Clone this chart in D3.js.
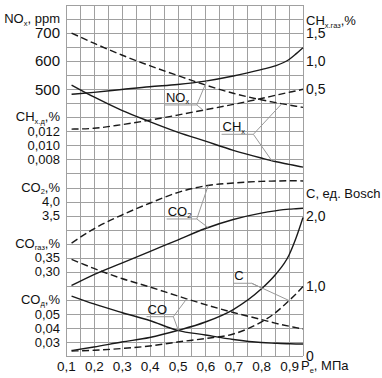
<!DOCTYPE html>
<html>
<head>
<meta charset="utf-8">
<script src="https://cdn.jsdelivr.net/npm/d3@7"></script>
<style>
body{margin:0;background:#fff}
text{font-family:"Liberation Sans",Arial,sans-serif;fill:#111}
</style>
</head>
<body>
<div id="chart"></div>
<script>
// pressure Pe, MPa
const pressure   = [0.12, 0.2, 0.3, 0.4, 0.5, 0.6, 0.7, 0.8, 0.85, 0.9, 0.925, 0.95]
// NOx, ppm
const noxSolid   = [482, 489, 499, 509, 517, 529, 547, 570, 583, 606, 626, 648]
const noxDashed  = [358, 361, 374, 390, 408, 427, 446, 467, 478, 489, 494, 500]
// CHx
const chxGas     = [1.50, 1.32, 1.11, 0.92, 0.745, 0.576, 0.428, 0.312, 0.264, 0.219, 0.198, 0.178]
const chxDiesel  = [0.0186, 0.0169, 0.0150, 0.0134, 0.0119, 0.0106, 0.0093, 0.0082, 0.0077, 0.0073, 0.0071, 0.0069]
// CO2, %
const co2Dashed  = [2.52, 3.03, 3.52, 3.94, 4.32, 4.56, 4.66, 4.72, 4.73, 4.74, 4.74, 4.73]
const co2Solid   = [1.01, 1.40, 1.81, 2.22, 2.63, 3.04, 3.36, 3.59, 3.67, 3.73, 3.745, 3.76]
// CO, %
const coGas      = [0.344, 0.312, 0.276, 0.246, 0.214, 0.183, 0.155, 0.130, 0.117, 0.106, 0.101, 0.096]
const coDiesel   = [0.0627, 0.0571, 0.0510, 0.0453, 0.0383, 0.0350, 0.0318, 0.0296, 0.0291, 0.0287, 0.0286, 0.0286]
// C, Bosch units
const boschSolid  = [0.078, 0.128, 0.199, 0.264, 0.363, 0.484, 0.662, 0.954, 1.154, 1.439, 1.68, 1.973]
const boschDashed = [0.071, 0.081, 0.107, 0.142, 0.199, 0.249, 0.313, 0.484, 0.613, 0.79, 0.883, 0.99]

// tick labels
const xTicks       = [0.1, 0.2, 0.3, 0.4, 0.5, 0.6, 0.7, 0.8, 0.9]
const noxTicks     = [700, 600, 500]
const chxDTicks    = [0.012, 0.010, 0.008]
const co2Ticks     = [4.0, 3.5]
const coGasTicks   = [0.35, 0.30]
const coDTicks     = [0.05, 0.04, 0.03]
const chxGasTicks  = [1.5, 1.0, 0.5]
const boschTicks   = [2.0, 1.0, 0]

const width = 382, height = 378
const plotL = 66, plotR = 303, plotT = 5, plotB = 356
const rows = 25

const svg = d3.select("#chart").append("svg")
	.attr("width", width)
	.attr("height", height)

const x = d3.scaleLinear().domain([0.1, 0.95]).range([plotL, plotR])
const yRow = d3.scaleLinear().domain([0, rows]).range([plotT, plotB])

// one scale per quantity, all on the same grid
const yNox    = d3.scaleLinear().domain([700, 500]).range([yRow(2), yRow(6)])
const yChxD   = d3.scaleLinear().domain([0.012, 0.008]).range([yRow(9), yRow(11)])
const yCo2    = d3.scaleLinear().domain([4.0, 3.5]).range([yRow(14), yRow(15)])
const yCoGas  = d3.scaleLinear().domain([0.35, 0.30]).range([yRow(18), yRow(19)])
const yCoD    = d3.scaleLinear().domain([0.05, 0.03]).range([yRow(22), yRow(24)])
const yChxGas = d3.scaleLinear().domain([1.5, 0.5]).range([yRow(2), yRow(6)])
const yBosch  = d3.scaleLinear().domain([2.0, 0]).range([yRow(15), yRow(25)])

const comma = (n) => d => d.toFixed(n).replace(".", ",")

// grid
const grid = svg.append("g").attr("stroke", "#a0a0a0").attr("stroke-width", 1)
grid.selectAll(".vl").data(d3.range(18).map(i => 0.1 + i * 0.05))
	.enter().append("line")
	.attr("x1", d => Math.round(x(d)) + 0.5).attr("x2", d => Math.round(x(d)) + 0.5)
	.attr("y1", plotT).attr("y2", plotB)
grid.selectAll(".hl").data(d3.range(rows + 1))
	.enter().append("line")
	.attr("x1", plotL).attr("x2", plotR)
	.attr("y1", d => Math.round(yRow(d)) + 0.5).attr("y2", d => Math.round(yRow(d)) + 0.5)

// axes (labels only)
function styleAxis(g, size){
	g.select(".domain").remove()
	g.selectAll("text").attr("font-size", size).attr("fill", "#111")
		.attr("font-family", '"Liberation Sans",Arial,sans-serif')
}
function leftAxis(scale, ticks, fmt, size){
	svg.append("g").attr("transform", "translate(" + plotL + ",0)")
		.call(d3.axisLeft(scale).tickValues(ticks).tickSize(0).tickPadding(6).tickFormat(fmt))
		.call(styleAxis, size)
}
function rightAxis(scale, ticks, fmt, size){
	svg.append("g").attr("transform", "translate(" + plotR + ",0)")
		.call(d3.axisRight(scale).tickValues(ticks).tickSize(0).tickPadding(3).tickFormat(fmt))
		.call(styleAxis, size)
}
leftAxis(yNox, noxTicks, d3.format("d"), 15)
leftAxis(yChxD, chxDTicks, comma(3), 13)
leftAxis(yCo2, co2Ticks, comma(1), 13)
leftAxis(yCoGas, coGasTicks, comma(2), 13)
leftAxis(yCoD, coDTicks, comma(2), 13)
rightAxis(yChxGas, chxGasTicks, comma(1), 14)
rightAxis(yBosch, boschTicks, d => d === 0 ? "0" : comma(1)(d), 14)

svg.append("g").attr("transform", "translate(0," + plotB + ")")
	.call(d3.axisBottom(x).tickValues(xTicks).tickSize(0).tickPadding(5).tickFormat(comma(1)))
	.call(styleAxis, 13.5)

// titles with subscripts
function title(px, py, parts, anchor){
	const t = svg.append("text").attr("x", px).attr("y", py)
		.attr("font-size", 13).attr("text-anchor", anchor || "start")
	let down = false
	parts.forEach(p => {
		const sub = p[1] === true
		const ts = t.append("tspan").text(p[0])
		if(sub){ ts.attr("font-size", 7.5).attr("dy", 2.5); down = true }
		else if(down){ ts.attr("dy", -2.5); down = false }
	})
	return t
}
title(60, yRow(1) + 4, [["NO"], ["x", true], [", ppm"]], "end")
title(60, yRow(8) + 4, [["CH"], ["х.д", true], [",%"]], "end")
title(60, yRow(13) + 4, [["CO"], ["2", true], [",%"]], "end")
title(60, yRow(17) + 4, [["CO"], ["газ", true], [",%"]], "end")
title(60, yRow(21) + 4, [["CO"], ["д", true], [",%"]], "end")
title(306, yRow(1) + 6, [["CH"], ["х.газ", true], [",%"]])
title(306, yRow(13.4) + 5, [["C, ед. Bosch"]])
title(301, 370, [["P"], ["e", true], [", МПа"]])

// curves
const series = [
	{values: noxSolid, y: yNox, dash: null},
	{values: noxDashed, y: yNox, dash: "7,3.5"},
	{values: chxGas, y: yChxGas, dash: "7,3.5"},
	{values: chxDiesel, y: yChxD, dash: null},
	{values: co2Dashed, y: yCo2, dash: "7,3.5"},
	{values: co2Solid, y: yCo2, dash: null},
	{values: coGas, y: yCoGas, dash: "7,3.5"},
	{values: coDiesel, y: yCoD, dash: null},
	{values: boschSolid, y: yBosch, dash: null},
	{values: boschDashed, y: yBosch, dash: "7,3.5"}
]
series.forEach(s => {
	const line = d3.line().x(d => x(d[0])).y(d => s.y(d[1])).curve(d3.curveMonotoneX)
	svg.append("path")
		.datum(pressure.map((p, i) => [p, s.values[i]]))
		.attr("d", line)
		.attr("fill", "none")
		.attr("stroke", "#1a1a1a")
		.attr("stroke-width", 1.4)
		.attr("stroke-dasharray", s.dash)
})

// value of a series at pressure p (for the leader lines)
function at(s, p){
	return s.y(d3.scaleLinear().domain(pressure).range(s.values)(p))
}

// annotations: underline from p0 to p1 at row, leaders to series at given pressures
const notes = [
	{parts: [["NO"], ["x", true]], p0: 0.455, p1: 0.569, row: 7.12, to: [[0, 0.605], [1, 0.592]]},
	{parts: [["CH"], ["x", true]], p0: 0.658, p1: 0.772, row: 9.21, to: [[2, 0.874], [3, 0.838]]},
	{parts: [["CO"], ["2", true]], p0: 0.461, p1: 0.569, row: 15.24, to: [[4, 0.61], [5, 0.61]]},
	{parts: [["C"]], p0: 0.700, p1: 0.766, row: 19.82, to: [[8, 0.803], [9, 0.9]]},
	{parts: [["CO"]], p0: 0.389, p1: 0.485, row: 22.2, to: [[6, 0.533], [7, 0.503]]}
]
const lead = svg.append("g").attr("stroke", "#999").attr("stroke-width", 1).attr("fill", "none")
notes.forEach(n => {
	const jx = x(n.p1), jy = yRow(n.row)
	lead.append("line").attr("x1", x(n.p0)).attr("x2", jx).attr("y1", jy).attr("y2", jy)
	n.to.forEach(t => {
		lead.append("line").attr("x1", jx).attr("y1", jy)
			.attr("x2", x(t[1])).attr("y2", at(series[t[0]], t[1]))
	})
	title(x(n.p0) + 1, jy - 3, n.parts)
})
</script>
</body>
</html>
